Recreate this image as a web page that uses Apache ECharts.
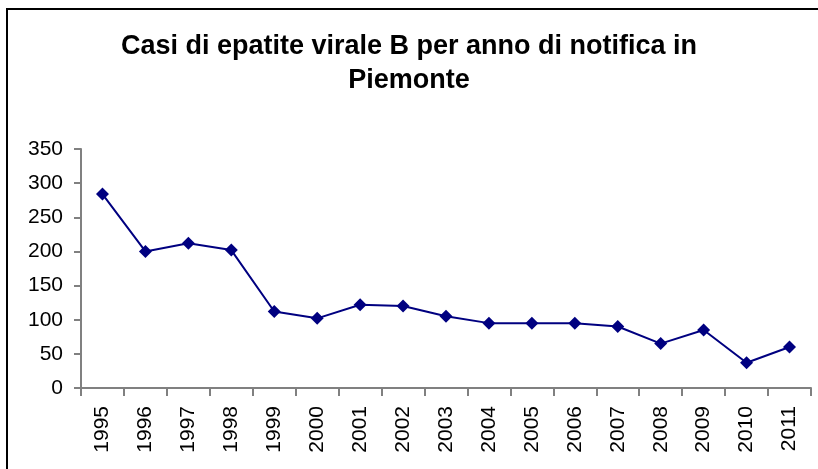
<!DOCTYPE html>
<html>
<head>
<meta charset="utf-8">
<script src="https://cdn.jsdelivr.net/npm/echarts@6/dist/echarts.min.js"></script>
<style>
  html, body { margin: 0; padding: 0; background: #fff; }
  #chart { width: 818px; height: 469px; }
</style>
</head>
<body>
<div id="chart"></div>
<script>
// anni di notifica
const anni = ['1995', '1996', '1997', '1998', '1999', '2000', '2001', '2002', '2003',
  '2004', '2005', '2006', '2007', '2008', '2009', '2010', '2011']
// casi notificati
const casi = [284, 200, 212, 202, 112, 102, 122, 120, 105, 95, 95, 95, 90, 65, 85, 37, 60]

const myChart = echarts.init(document.getElementById('chart'))

const option = {
  backgroundColor: '#fff',
  animation: false,
  title: {
    text: 'Casi di epatite virale B per anno di notifica in\nPiemonte',
    left: 'center',
    top: 24,
    textStyle: {
      fontFamily: 'Liberation Sans, Arial, sans-serif',
      fontWeight: 'bold',
      fontSize: 27,
      lineHeight: 34.5,
      color: '#000'
    }
  },
  // cornice esterna
  graphic: [
    {
      type: 'rect',
      shape: { x: 7, y: 9, width: 830, height: 480 },
      style: { fill: 'none', stroke: '#000', lineWidth: 2 },
      silent: true
    }
  ],
  grid: {
    left: 81,
    right: 7,
    top: 149,
    bottom: 81
  },
  xAxis: {
    type: 'category',
    data: anni,
    boundaryGap: true,
    axisLine: { lineStyle: { color: '#808080', width: 2 } },
    axisTick: { show: true, length: 8, lineStyle: { color: '#808080', width: 2 } },
    axisLabel: {
      rotate: 90,
      margin: 18,
      color: '#000',
      fontFamily: 'Liberation Sans, Arial, sans-serif',
      fontSize: 21
    },
    splitLine: { show: false }
  },
  yAxis: {
    type: 'value',
    min: 0,
    max: 350,
    interval: 50,
    axisLine: { show: true, lineStyle: { color: '#808080', width: 2 } },
    axisTick: { show: true, length: 7, lineStyle: { color: '#808080', width: 2 } },
    axisLabel: {
      margin: 18,
      color: '#000',
      fontFamily: 'Liberation Sans, Arial, sans-serif',
      fontSize: 21
    },
    splitLine: { show: false }
  },
  series: [
    {
      type: 'line',
      data: casi,
      symbol: 'diamond',
      symbolSize: 13,
      itemStyle: { color: '#000080' },
      lineStyle: { color: '#000080', width: 2 }
    }
  ]
}

myChart.setOption(option)
</script>
</body>
</html>
